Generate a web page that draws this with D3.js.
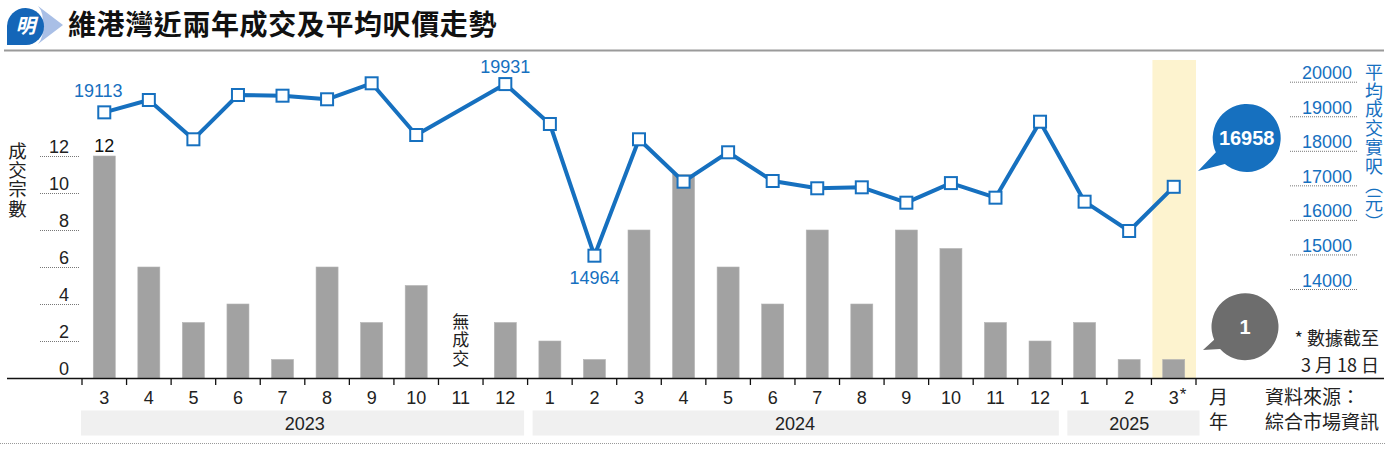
<!DOCTYPE html>
<html>
<head>
<meta charset="utf-8">
<script src="https://cdn.jsdelivr.net/npm/d3@7"></script>
<style>
html,body{margin:0;padding:0;background:#fff;}
svg{display:block;}
text{font-family:"Liberation Sans",Arial,sans-serif;}
.cjk{font-family:"Noto Sans CJK TC","Noto Sans CJK SC",sans-serif;}
.vert{writing-mode:vertical-rl;}
</style>
</head>
<body>
<svg id="chart" width="1400" height="458"></svg>
<script>
// ---- data ----
const years = ["2023", "2024", "2025"];
const monthsByYear = [
  ["3","4","5","6","7","8","9","10","11","12"],
  ["1","2","3","4","5","6","7","8","9","10","11","12"],
  ["1","2","3"]
];
const deals = [12,6,3,4,1,6,3,5,0,3, 2,1,8,11,6,4,8,4,8,7,3,2, 3,1,1];
const avgPrice = [19113,19470,18333,19615,19595,19491,19954,18457,null,19931,
                  18776,14964,18333,17106,17957,17126,16915,16943,16498,17065,16643,18842,
                  16527,15679,16958];
const leftTicks = [0,2,4,6,8,10,12];
const rightTicks = [14000,15000,16000,17000,18000,19000,20000];
const priceLabels = [{i:0,v:"19113",pos:"tl"},{i:9,v:"19931",pos:"t"},{i:11,v:"14964",pos:"b"}];

const BLUE = "#1670bf";
const svg = d3.select("#chart");

// keys
const keys = [];
years.forEach((y,yi)=>monthsByYear[yi].forEach(m=>keys.push(y+"-"+m)));

const x = d3.scaleBand().domain(keys).range([82,1196]).padding(0);
const bw = x.bandwidth();
const yL = d3.scaleLinear().domain([0,12]).range([378,156]);
const yR = d3.scaleLinear().domain([14000,20000]).range([289,81.7]);

// ---- title ----
const logo = svg.append("g");
logo.append("path")
  .attr("d","M 42 25 A 13 17 0 0 1 38 44 L 63 25 L 38 6 A 13 17 0 0 1 42 25 Z")
  .attr("fill","#a9bfe6");
logo.append("path")
  .attr("d","M 7 45 L 7 26 A 18.5 18.5 0 1 1 26 45 Z")
  .attr("fill","#1466b8");
logo.append("text").attr("class","cjk").attr("x",25.5).attr("y",33)
  .attr("text-anchor","middle").attr("font-size",20).attr("font-weight",700)
  .attr("font-style","italic").attr("fill","#fff").text("明");
svg.append("text").attr("class","cjk").attr("x",68).attr("y",35)
  .attr("font-size",28).attr("font-weight",700).attr("letter-spacing",0.6).attr("fill","#111")
  .text("維港灣近兩年成交及平均呎價走勢");
svg.append("line").attr("x1",4).attr("x2",1384).attr("y1",50.5).attr("y2",50.5)
  .attr("stroke","#9a9a9a").attr("stroke-width",2);

// ---- highlight ----
const hk = keys[keys.length-1];
svg.append("rect").attr("x",x(hk)+1).attr("y",60).attr("width",bw-1).attr("height",318)
  .attr("fill","#fdf3cf");

// ---- left axis ----
const gl = svg.append("g");
leftTicks.forEach(t=>{
  if(t>0){
    gl.append("line").attr("x1",40).attr("x2",79).attr("y1",yL(t)+0.5).attr("y2",yL(t)+0.5)
      .attr("stroke","#777").attr("stroke-dasharray","1,1");
  }
  gl.append("text").attr("x",69).attr("y",yL(t)-3.5).attr("text-anchor","end")
    .attr("font-size",18).attr("fill","#222").text(t);
});
svg.append("text").attr("class","cjk vert").attr("x",17.5).attr("y",142)
  .attr("font-size",18.5).attr("letter-spacing",0.6).attr("fill","#222").text("成交宗數");

// ---- right axis ----
const gr = svg.append("g");
rightTicks.forEach(t=>{
  gr.append("line").attr("x1",1290).attr("x2",1357).attr("y1",yR(t)+0.5).attr("y2",yR(t)+0.5)
    .attr("stroke","#777").attr("stroke-dasharray","1,1");
  gr.append("text").attr("x",1352).attr("y",yR(t)-2.5).attr("text-anchor","end")
    .attr("font-size",18).attr("fill",BLUE).text(t);
});
svg.append("text").attr("class","cjk vert").attr("x",1374).attr("y",63)
  .attr("font-size",18).attr("letter-spacing",0.8).attr("fill",BLUE).text("平均成交實呎（元）");

// ---- bars ----
const barW = 22;
svg.append("g").selectAll("rect").data(keys.map((k,i)=>({k,v:deals[i]})).filter(d=>d.v>0))
  .join("rect")
  .attr("x",d=>x(d.k)+(bw-barW)/2).attr("width",barW)
  .attr("y",d=>yL(d.v)).attr("height",d=>yL(0)-yL(d.v))
  .attr("fill","#a2a2a2").attr("stroke","#b4b4b4").attr("stroke-width",0.6);
// label on first bar
svg.append("text").attr("x",x(keys[0])+bw/2).attr("y",yL(deals[0])-4)
  .attr("text-anchor","middle").attr("font-size",18).attr("fill","#111").text(deals[0]);
// no-deal label
keys.forEach((k,i)=>{
  if(deals[i]===0){
    svg.append("text").attr("class","cjk vert").attr("x",x(k)+bw/2).attr("y",313)
      .attr("font-size",17).attr("letter-spacing",1.5).attr("fill","#222").text("無成交");
  }
});

// ---- x axis ----
svg.append("line").attr("x1",7).attr("x2",1384).attr("y1",378.5).attr("y2",378.5)
  .attr("stroke","#111").attr("stroke-width",1.5);
const tickXs = keys.map(k=>x(k)).concat([x.range()[1]]);
svg.append("g").selectAll("line").data(tickXs).join("line")
  .attr("x1",d=>d).attr("x2",d=>d).attr("y1",378).attr("y2",385)
  .attr("stroke","#111").attr("stroke-width",1.3);
keys.forEach((k,i)=>{
  const m = k.split("-")[1];
  svg.append("text").attr("x",x(k)+bw/2).attr("y",404)
    .attr("text-anchor","middle").attr("font-size",18).attr("fill","#222").text(m);
  if(i===keys.length-1){
    svg.append("text").attr("x",x(k)+bw/2+6).attr("y",400)
      .attr("font-size",17).attr("fill","#222").text("*");
  }
});
// year bands
let idx = 0;
years.forEach((y,yi)=>{
  const n = monthsByYear[yi].length;
  const x0 = x(keys[idx]);
  const x1 = idx+n<keys.length ? x(keys[idx+n]) : x.range()[1];
  svg.append("rect").attr("x",x0+ (yi===0?-1:5)).attr("y",410.5)
    .attr("width",(x1-x0)-(yi===0?2.5:(yi===2?1.5:8.5))).attr("height",25)
    .attr("fill","#f0f0f0");
  svg.append("text").attr("x",(x0+x1)/2).attr("y",429.5).attr("text-anchor","middle")
    .attr("font-size",18).attr("fill","#222").text(y);
  idx += n;
});
svg.append("line").attr("x1",0).attr("x2",1385).attr("y1",443.5).attr("y2",443.5)
  .attr("stroke","#999").attr("stroke-dasharray","1,1");

// unit labels
svg.append("text").attr("class","cjk").attr("x",1209).attr("y",404).attr("font-size",19).attr("fill","#222").text("月");
svg.append("text").attr("class","cjk").attr("x",1209).attr("y",429).attr("font-size",19).attr("fill","#222").text("年");
svg.append("text").attr("class","cjk").attr("x",1265).attr("y",404).attr("font-size",19).attr("fill","#222").text("資料來源：");
svg.append("text").attr("class","cjk").attr("x",1265).attr("y",429).attr("font-size",19).attr("fill","#222").text("綜合市場資訊");
svg.append("text").attr("class","cjk").attr("x",1379).attr("y",345).attr("text-anchor","end").attr("font-size",18).attr("fill","#222").text("* 數據截至");
svg.append("text").attr("class","cjk").attr("x",1379).attr("y",372).attr("text-anchor","end").attr("font-size",18).attr("fill","#222").text("3 月 18 日");

// ---- price line ----
const pts = keys.map((k,i)=>({k,v:avgPrice[i]})).filter(d=>d.v!=null);
const line = d3.line().x(d=>x(d.k)+bw/2).y(d=>yR(d.v));
svg.append("path").datum(pts).attr("d",line).attr("fill","none")
  .attr("stroke",BLUE).attr("stroke-width",4).attr("stroke-linejoin","round");
const ms = 12;
svg.append("g").selectAll("rect").data(pts).join("rect")
  .attr("x",d=>x(d.k)+bw/2-ms/2).attr("y",d=>yR(d.v)-ms/2)
  .attr("width",ms).attr("height",ms).attr("fill","#fff")
  .attr("stroke",BLUE).attr("stroke-width",2);
priceLabels.forEach(p=>{
  const cx = x(keys[p.i])+bw/2, cy = yR(avgPrice[p.i]);
  let tx=cx, ty=cy;
  if(p.pos==="tl"){tx=cx-6; ty=cy-15;}
  if(p.pos==="t"){ty=cy-11;}
  if(p.pos==="b"){ty=cy+28;}
  svg.append("text").attr("x",tx).attr("y",ty).attr("text-anchor","middle")
    .attr("font-size",18).attr("fill",BLUE).text(p.v);
});

// ---- callout bubbles ----
function bubble(cx,cy,r,tip,a1,a2,fill,label){
  const rad = a=>a*Math.PI/180;
  const p1=[cx+r*Math.cos(rad(a1)),cy+r*Math.sin(rad(a1))];
  const p2=[cx+r*Math.cos(rad(a2)),cy+r*Math.sin(rad(a2))];
  const path = `M ${p2[0]} ${p2[1]} A ${r} ${r} 0 1 1 ${p1[0]} ${p1[1]} L ${tip[0]} ${tip[1]} Z`;
  svg.append("path").attr("d",path).attr("fill",fill);
  svg.append("text").attr("x",cx).attr("y",cy+7).attr("text-anchor","middle")
    .attr("font-size",20).attr("font-weight",700).attr("fill","#fff").text(label);
}
bubble(1246.7,138,34,[1198,171],130,155,BLUE,String(avgPrice[avgPrice.length-1]));
bubble(1245,326.7,33.5,[1203,350],138,157,"#6d6d6d",String(deals[deals.length-1]));
</script>
</body>
</html>
